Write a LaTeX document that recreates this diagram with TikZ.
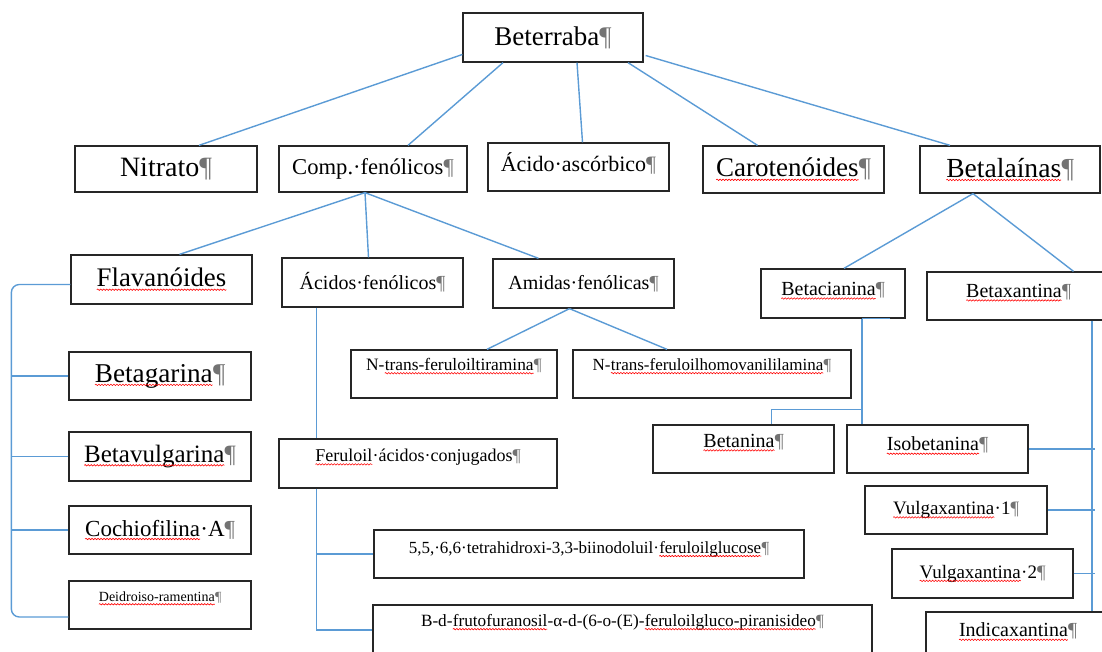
\documentclass[tikz,border=0pt]{standalone}
\usepackage{fontspec}
\setmainfont{Liberation Serif}
\usetikzlibrary{calc,decorations.pathmorphing}

\definecolor{azul}{RGB}{91,155,213}
\newcommand{\pil}{\textcolor{black!55}{¶}}
% sublinhado ondulado (corretor ortografico)
\newcommand{\ond}[1]{\tikz[baseline=(w.base)]{\node[draw=none, inner sep=0pt, outer sep=0pt,
        minimum width=0pt, minimum height=0pt, text depth=, text height=] (w) {#1};
    \draw[red, line width=0.3pt, decorate, decoration={snake, amplitude=0.35pt, segment length=1.5pt}]
        ([yshift=-1.4pt]w.base west) -- ([yshift=-1.4pt]w.base east);}}

\begin{document}
\begin{tikzpicture}[x=0.5pt, y=-0.5pt,
    caixa/.style 2 args={draw=black!85, line width=0.65pt, minimum width=#1*0.5pt,
        minimum height=#2*0.5pt, inner sep=0pt},
    fs/.style={font=\fontsize{#1}{#1}\selectfont},
    sobe/.style={text depth=#1},
    liga/.style={draw=azul, line width=0.7pt}]
    \useasboundingbox (0,0) rectangle (1102,652);
    \clip (0,0) rectangle (1102,652);

    % raiz
    \node[caixa={180}{49}, fs=13.5] (bet) at (553,37.5) {Beterraba\pil};

    % primeiro nivel
    \node[caixa={182}{46}, fs=14] (nit) at (166,169) {Nitrato\pil};
    \node[caixa={188}{46}, fs=11.3] (comp) at (373,169) {Comp.·fenólicos\pil};
    \node[caixa={181}{48}, fs=11, sobe=5.2pt] (acasc) at (578.5,167) {Ácido·ascórbico\pil};
    \node[caixa={181}{47}, fs=13.5] (car) at (793.5,169.5) {\ond{Carotenóides}\pil};
    \node[caixa={180}{47}, fs=13.8] (btl) at (1010,169.5) {\ond{Betalaínas}\pil};

    \draw[liga] ($(bet.west)+(0,17)$) -- ($(nit.north)+(33,0)$);
    \draw[liga] ($(bet.south)+(-50,0)$) -- ($(comp.north)+(35,0)$);
    \draw[liga] ($(bet.south)+(24,0)$) -- ($(acasc.north)+(4,0)$);
    \draw[liga] ($(bet.south)+(75,0)$) -- ($(car.north)+(-36,0)$);
    \draw[liga] ($(bet.east)+(2,18)$) -- ($(btl.north)+(-60,0)$);

    % compostos fenolicos
    \node[caixa={181}{49}, fs=13.4] (flav) at (161.5,279.5) {\ond{Flavanóides}};
    \node[caixa={181}{49}, fs=10] (acfen) at (372.5,282.5) {Ácidos·fenólicos\pil};
    \node[caixa={181}{49}, fs=10] (amid) at (583.5,283.5) {Amidas·fenólicas\pil};

    \foreach \n/\dx in {flav/18, acfen/-4, amid/-45}
        \draw[liga] ($(comp.south)+(-8,0)$) -- ($(\n.north)+(\dx,0)$);

    \node[caixa={206}{48}, fs=8.7, sobe=9.7pt] (ntir) at (454,374) {N-\ond{trans-feruloiltiramina}\pil};
    \node[caixa={278}{48}, fs=8.5, sobe=9.7pt] (nhom) at (712,374) {N-\ond{trans-feruloilhomovanililamina}\pil};

    \foreach \n/\dx in {ntir/33, nhom/-45}
        \draw[liga] ($(amid.south)+(-14,0)$) -- ($(\n.north)+(\dx,0)$);

    % flavanoides
    \node[caixa={182}{48}, fs=13.6] (bgar) at (160,376) {\ond{Betagarina}\pil};
    \node[caixa={182}{49}, fs=12.5] (bvul) at (160,456.5) {\ond{Betavulgarina}\pil};
    \node[caixa={182}{48}, fs=11.5] (cochi) at (160,530) {\ond{Cochiofilina}·A\pil};
    \node[caixa={182}{48}, fs=7, sobe=8.4pt] (deid) at (160,605) {\ond{Deidroiso-ramentina}\pil};

    \draw[liga, rounded corners=4pt] ($(flav.west)+(0,5)$) -- ++(-59,0) |- ($(deid.west)+(0,12)$);
    \foreach \n in {bgar, bvul, cochi}
        \draw[liga] (\n.west) -- ++(-56,0);

    % acidos fenolicos
    \node[caixa={278}{49}, fs=9, sobe=8.2pt] (ferac) at (418,463.5) {\ond{Feruloil}·ácidos·conjugados\pil};
    \node[caixa={430}{48}, fs=8.5, sobe=6.7pt] (s55) at (589,554) {5,5,·6,6·tetrahidroxi-3,3-biinodoluil·\ond{feruloilglucose}\pil};
    \node[caixa={499}{50}, fs=8.6, sobe=9.7pt] (bdfru) at (622.5,630) {B-d-\ond{frutofuranosil}-α-d-(6-o-(E)-\ond{feruloilgluco-piranisideo}\pil};

    \coordinate (af) at ($(acfen.south)+(-56,0)$);
    \draw[liga] (af) -- (af |- ferac.north);
    \draw[liga] (af |- ferac.south) -- (af |- bdfru.west) -- (bdfru.west);
    \draw[liga] (af |- s55.west) -- (s55.west);

    % betalainas
    \node[caixa={144}{49}, fs=10, sobe=4.4pt] (bcia) at (833,293.5) {\ond{Betacianina}\pil};
    \node[caixa={183}{48}, fs=10, sobe=5pt] (bxan) at (1018.5,296) {\ond{Betaxantina}\pil};

    \foreach \n/\dx in {bcia/11, bxan/55}
        \draw[liga] ($(btl.south)+(-37,0)$) -- ($(\n.north)+(\dx,0)$);

    \node[caixa={181}{48}, fs=10, sobe=8pt] (btan) at (743.5,449) {\ond{Betanina}\pil};
    \node[caixa={181}{48}, fs=10, sobe=5pt] (isob) at (937.5,449) {\ond{Isobetanina}\pil};
    \node[caixa={182}{48}, fs=9.5] (vul1) at (956,510) {\ond{Vulgaxantina}·1\pil};
    \node[caixa={181}{49}, fs=9.5] (vul2) at (982.5,573.5) {\ond{Vulgaxantina}·2\pil};
    \node[caixa={184}{48}, fs=10, sobe=6pt] (indi) at (1018,636) {\ond{Indicaxantina}\pil};

    \coordinate (bc) at ($(bcia.south)+(29,0)$);
    \draw[liga] (bc) -- (bc |- isob.north);
    \draw[liga] (bc) -- ++(28,0);
    \draw[liga] ($(bc)!0.86!(bc |- isob.north)$) -| ($(btan.north)+(28,0)$);

    \coordinate (bx) at ($(bxan.south)+(73.5,0)$);
    \draw[liga] (bx) -- (bx |- indi.north);
    \foreach \n in {isob, vul1, vul2}
        \draw[liga] (\n.east) -- ($(bx |- \n.east)+(3,0)$);

\end{tikzpicture}
\end{document}
